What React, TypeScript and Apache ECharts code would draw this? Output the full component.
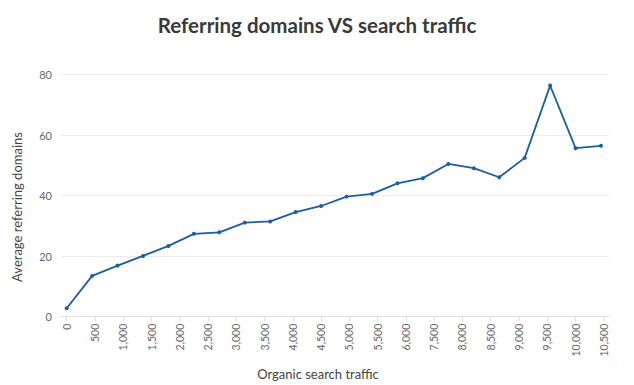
import React, { useEffect, useRef } from "react";
import * as echarts from "echarts";

const traffic = [0, 500, 1000, 1500, 2000, 2500, 3000, 3500, 4000, 4500, 5000, 5500, 6000, 6500, 7000, 7500, 8000, 8500, 9000, 9500, 10000, 10500];
const tickLabels = ["0", "500", "1,000", "1,500", "2,000", "2,500", "3,000", "3,500", "4,000", "4,500", "5,000", "5,500", "6,000", "7,500", "8,000", "8,500", "9,000", "9,500", "10,000", "10,500"];
const avgDomains = [2.8, 13.5, 16.9, 20.1, 23.4, 27.4, 27.9, 31.1, 31.5, 34.6, 36.6, 39.7, 40.6, 44.1, 45.8, 50.5, 49.1, 46.1, 52.5, 76.4, 55.7, 56.5];

export default function App() {
  const ref = useRef<HTMLDivElement>(null);
  useEffect(() => {
    const chart = echarts.init(ref.current!, undefined, { renderer: "svg" });
    const font = "Lato, 'Noto Sans', sans-serif";
    // the labelled ticks are spread evenly over the axis, independent of the data bins
    const tickStep = 10555 / (tickLabels.length - 1);
    const tickValues = tickLabels.map((_, i) => i * tickStep);
    chart.setOption({
      animation: false,
      backgroundColor: "#ffffff",
      textStyle: { fontFamily: font },
      title: {
        text: "Referring domains VS search traffic",
        left: "center",
        top: 9,
        textStyle: { fontFamily: font, fontSize: 20.5, fontWeight: "bold", color: "#3a3a3a" },
      },
      grid: { left: 61, right: 25, top: 74.7, bottom: 68.3, containLabel: false },
      xAxis: {
        type: "value",
        min: -112,
        max: 10657,
        splitLine: { show: false },
        axisLine: { show: true, lineStyle: { color: "#e0e0e0" } },
        axisTick: { show: true, customValues: tickValues, length: 5, lineStyle: { color: "#e0e0e0" } },
        axisLabel: {
          customValues: tickValues,
          rotate: 90,
          color: "#666",
          fontSize: 10.5,
          margin: 7,
          fontFamily: font,
          formatter: (v: number) => tickLabels[Math.round(v / tickStep)] ?? "",
        },
      },
      yAxis: {
        type: "value",
        min: 0,
        max: 80,
        interval: 20,
        axisLine: { show: false },
        axisTick: { show: false },
        splitLine: { lineStyle: { color: "#ececec" } },
        axisLabel: { color: "#666", fontSize: 11, margin: 9, fontFamily: font },
      },
      graphic: [
        {
          type: "text",
          x: 17,
          y: 207,
          rotation: Math.PI / 2,
          style: {
            text: "Average referring domains",
            fill: "#444",
            font: `13px ${font}`,
            align: "center",
            verticalAlign: "middle",
          },
        },
        {
          type: "text",
          x: 318,
          y: 374,
          style: {
            text: "Organic search traffic",
            fill: "#444",
            font: `13px ${font}`,
            align: "center",
            verticalAlign: "middle",
          },
        },
      ],
      series: [
        {
          type: "line",
          data: traffic.map((t, i) => [t, avgDomains[i]]),
          symbol: "circle",
          symbolSize: 4,
          lineStyle: { color: "#1a5ea3", width: 1.8 },
          itemStyle: { color: "#1a5ea3" },
        },
      ],
    });
    return () => chart.dispose();
  }, []);
  return <div ref={ref} style={{ width: 634, height: 385, position: "absolute", left: 0, top: 0 }} />;
}
